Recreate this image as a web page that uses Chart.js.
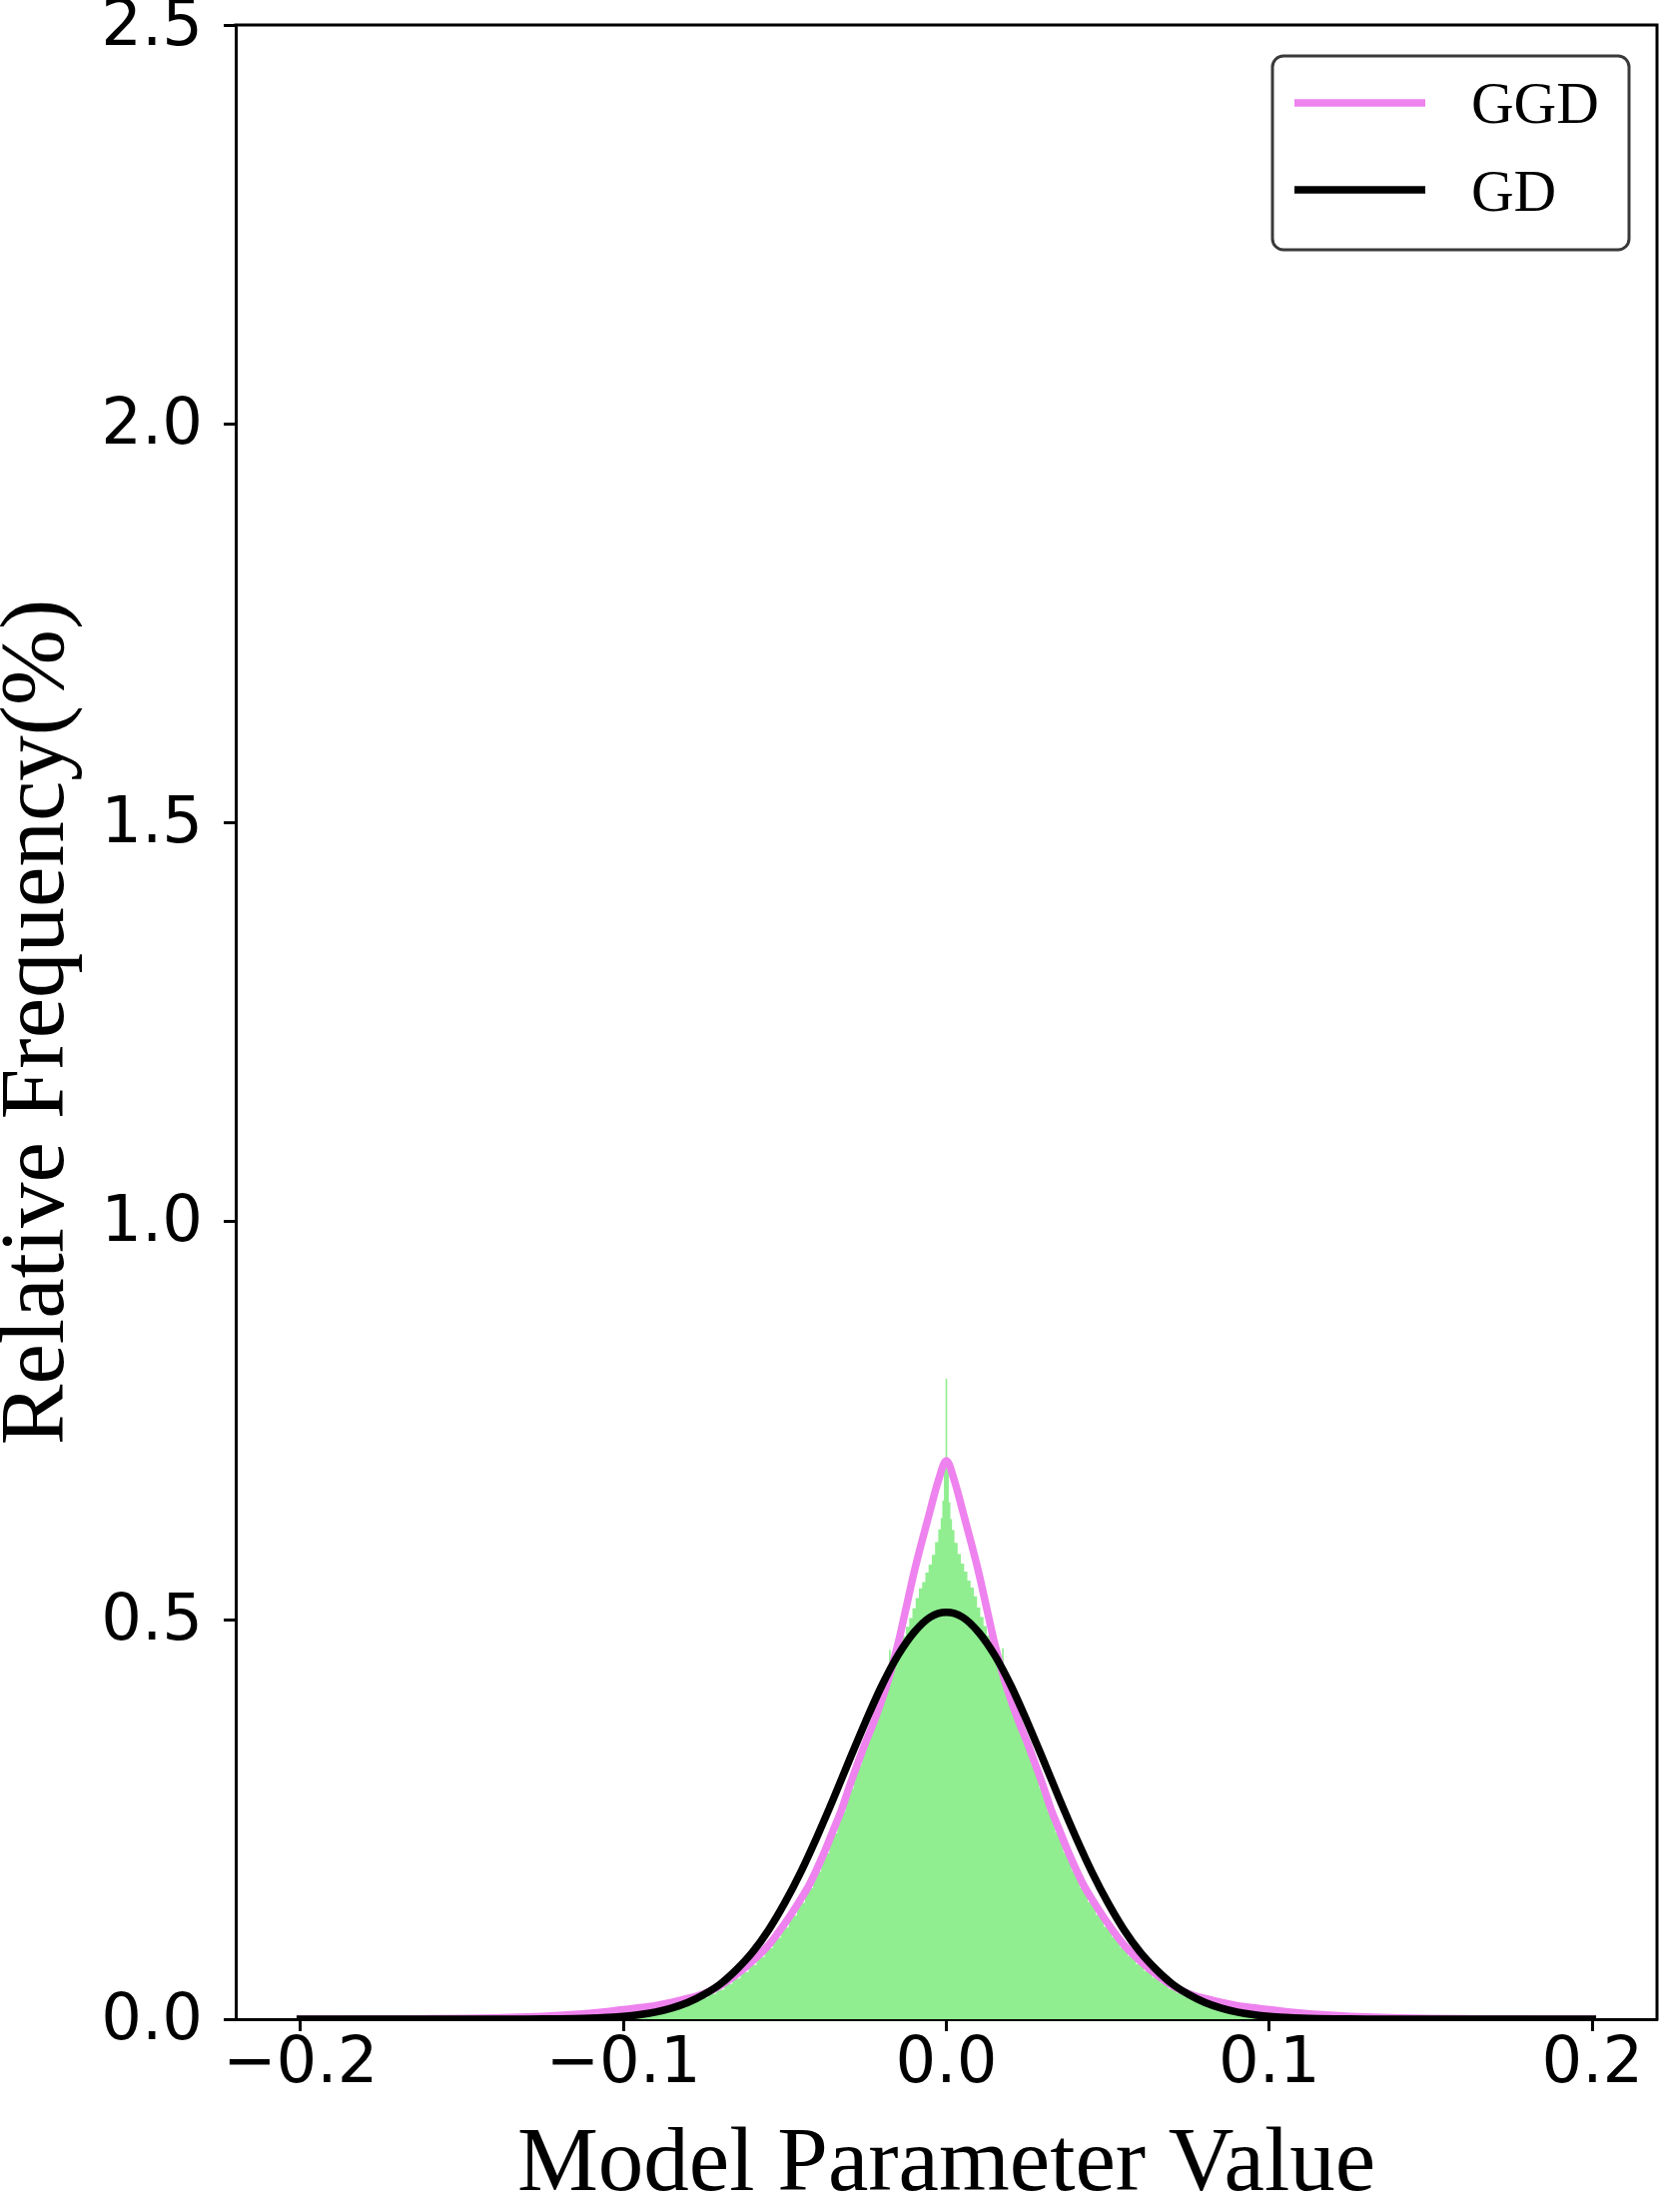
<!DOCTYPE html>
<html>
<head>
<meta charset="utf-8">
<script src="https://cdn.jsdelivr.net/npm/chart.js@4/dist/chart.umd.min.js"></script>
<style>
html,body{margin:0;padding:0;background:#fff;}
#wrap{width:1661px;height:2214px;position:relative;}
</style>
</head>
<body>
<div id="wrap"><canvas id="c" width="1661" height="2214"></canvas></div>
<script>
// ---- tick labels ----
const xTickValues = [-0.2, -0.1, 0, 0.1, 0.2];
const xTickLabels = ['\u22120.2', '\u22120.1', '0.0', '0.1', '0.2'];
const yTickValues = [0, 0.5, 1, 1.5, 2, 2.5];
const yTickLabels = ['0.0', '0.5', '1.0', '1.5', '2.0', '2.5'];

// ---- axis titles / series names ----
const xTitle = 'Model Parameter Value';
const yTitle = 'Relative Frequency(%)';
const seriesNames = ['GGD', 'GD'];

// ---- histogram (bin centres, relative frequency %) ----
const histX = [-0.115,-0.11,-0.105,-0.1,-0.0975,-0.095,-0.0925,-0.09,-0.0875,-0.085,-0.0825,-0.08,-0.0775,-0.075,-0.0725,-0.07,-0.0675,-0.065,-0.0625,-0.06,-0.0575,-0.055,-0.0525,-0.05,-0.0475,-0.045,-0.0425,-0.04,-0.0375,-0.035,-0.0325,-0.03,-0.0275,-0.025,-0.0225,-0.02,-0.018,-0.0175,-0.017,-0.016,-0.015,-0.014,-0.013,-0.012,-0.011,-0.01,-0.009,-0.008,-0.007,-0.006,-0.005,-0.004,-0.003,-0.002,-0.0015,-0.001,-0.0005,
  0,
  0.0005,0.001,0.0015,0.002,0.003,0.004,0.005,0.006,0.007,0.008,0.009,0.01,0.011,0.012,0.013,0.014,0.015,0.016,0.017,0.0175,0.018,0.02,0.0225,0.025,0.0275,0.03,0.0325,0.035,0.0375,0.04,0.0425,0.045,0.0475,0.05,0.0525,0.055,0.0575,0.06,0.0625,0.065,0.0675,0.07,0.0725,0.075,0.0775,0.08,0.0825,0.085,0.0875,0.09,0.0925,0.095,0.0975,0.1,0.105,0.11,0.115];
const histY = [0,0.0005,0.0012,0.0024,0.0033,0.0045,0.006,0.008,0.010,0.013,0.016,0.019,0.023,0.027,0.032,0.037,0.044,0.051,0.059,0.068,0.078,0.089,0.102,0.115,0.130,0.146,0.164,0.185,0.208,0.233,0.260,0.289,0.318,0.347,0.374,0.402,0.425,0.463,0.438,0.446,0.456,0.468,0.480,0.492,0.503,0.515,0.528,0.540,0.548,0.560,0.570,0.582,0.598,0.614,0.628,0.650,0.690,
  0.803,
  0.688,0.648,0.627,0.613,0.597,0.583,0.571,0.561,0.550,0.541,0.530,0.516,0.504,0.493,0.481,0.469,0.457,0.447,0.440,0.465,0.426,0.403,0.375,0.348,0.319,0.290,0.261,0.234,0.209,0.186,0.165,0.147,0.131,0.116,0.103,0.090,0.079,0.069,0.060,0.052,0.045,0.038,0.033,0.028,0.023,0.019,0.016,0.013,0.010,0.008,0.006,0.0045,0.0033,0.0024,0.0012,0.0005,0];

// ---- GGD fitted curve ----
const ggdX = [-0.2,-0.19,-0.18,-0.17,-0.16,-0.15,-0.145,-0.14,-0.135,-0.13,-0.125,-0.12,-0.115,-0.11,-0.105,-0.1,-0.095,-0.09,-0.085,-0.08,-0.075,-0.07,-0.065,-0.06,-0.055,-0.05,-0.045,-0.0425,-0.04,-0.0375,-0.035,-0.0325,-0.03,-0.0275,-0.025,-0.0225,-0.02,-0.0175,-0.015,-0.0125,-0.01,-0.0075,-0.005,-0.0025,
  0,
  0.0025,0.005,0.0075,0.01,0.0125,0.015,0.0175,0.02,0.0225,0.025,0.0275,0.03,0.0325,0.035,0.0375,0.04,0.0425,0.045,0.05,0.055,0.06,0.065,0.07,0.075,0.08,0.085,0.09,0.095,0.1,0.105,0.11,0.115,0.12,0.125,0.13,0.135,0.14,0.145,0.15,0.16,0.17,0.18,0.19,0.2];
const ggdY = [0.0001,0.0001,0.0002,0.0004,0.0006,0.0010,0.0013,0.0017,0.0022,0.0028,0.0036,0.0046,0.0059,0.0075,0.0095,0.012,0.0143,0.017,0.021,0.026,0.032,0.042,0.056,0.073,0.093,0.120,0.151,0.168,0.189,0.212,0.237,0.262,0.292,0.320,0.347,0.372,0.400,0.432,0.470,0.515,0.560,0.600,0.638,0.675,
  0.700,
  0.675,0.638,0.600,0.560,0.515,0.470,0.432,0.400,0.372,0.347,0.320,0.292,0.262,0.237,0.212,0.189,0.168,0.151,0.120,0.093,0.073,0.056,0.042,0.032,0.026,0.021,0.017,0.0143,0.012,0.0095,0.0075,0.0059,0.0046,0.0036,0.0028,0.0022,0.0017,0.0013,0.0010,0.0006,0.0004,0.0002,0.0001,0.0001];

// ---- GD fitted curve ----
const gdX = [-0.2,-0.18,-0.16,-0.14,-0.13,-0.125,-0.12,-0.115,-0.11,-0.105,-0.1,-0.095,-0.09,-0.085,-0.08,-0.075,-0.07,-0.065,-0.06,-0.055,-0.05,-0.045,-0.04,-0.035,-0.03,-0.025,-0.02,-0.015,-0.01,-0.005,
  0,
  0.005,0.01,0.015,0.02,0.025,0.03,0.035,0.04,0.045,0.05,0.055,0.06,0.065,0.07,0.075,0.08,0.085,0.09,0.095,0.1,0.105,0.11,0.115,0.12,0.125,0.13,0.14,0.16,0.18,0.2];
const gdY = [0,0,0,0,0.0001,0.0002,0.0004,0.0007,0.0012,0.0021,0.0034,0.0056,0.009,0.014,0.021,0.031,0.044,0.062,0.084,0.112,0.146,0.185,0.229,0.276,0.325,0.373,0.418,0.456,0.485,0.504,
  0.510,
  0.504,0.485,0.456,0.418,0.373,0.325,0.276,0.229,0.185,0.146,0.112,0.084,0.062,0.044,0.031,0.021,0.014,0.009,0.0056,0.0034,0.0021,0.0012,0.0007,0.0004,0.0002,0.0001,0,0,0,0];

function pts(xs, ys) { return xs.map((x, i) => ({ x: x, y: ys[i] })); }

const framePlugin = {
  id: 'frame',
  afterDatasetsDraw(chart) {
    const { ctx, chartArea: a } = chart;
    ctx.save();
    ctx.strokeStyle = '#000';
    ctx.lineWidth = 3;
    ctx.lineCap = 'square';
    ctx.beginPath();
    ctx.moveTo(a.left, a.top);
    ctx.lineTo(a.right, a.top);
    ctx.lineTo(a.right, a.bottom);
    ctx.stroke();
    ctx.restore();
  }
};

const legendPlugin = {
  id: 'boxLegend',
  afterDraw(chart) {
    const ctx = chart.ctx;
    const x = 1274, y = 56, w = 357, h = 194, r = 11;
    ctx.save();
    ctx.beginPath();
    ctx.moveTo(x + r, y);
    ctx.lineTo(x + w - r, y);
    ctx.arcTo(x + w, y, x + w, y + r, r);
    ctx.lineTo(x + w, y + h - r);
    ctx.arcTo(x + w, y + h, x + w - r, y + h, r);
    ctx.lineTo(x + r, y + h);
    ctx.arcTo(x, y + h, x, y + h - r, r);
    ctx.lineTo(x, y + r);
    ctx.arcTo(x, y, x + r, y, r);
    ctx.closePath();
    ctx.fillStyle = 'rgba(255,255,255,0.8)';
    ctx.fill();
    ctx.lineWidth = 3;
    ctx.strokeStyle = '#3a3a3a';
    ctx.stroke();
    const rows = [{ ds: chart.data.datasets[1], cy: 103, ty: 123 }, { ds: chart.data.datasets[2], cy: 190, ty: 211 }];
    rows.forEach(rw => {
      ctx.beginPath();
      ctx.lineWidth = 7.5;
      ctx.lineCap = 'butt';
      ctx.strokeStyle = rw.ds.borderColor;
      ctx.moveTo(1296, rw.cy);
      ctx.lineTo(1427, rw.cy);
      ctx.stroke();
      ctx.fillStyle = '#000';
      ctx.font = '59px "Liberation Serif"';
      ctx.textBaseline = 'alphabetic';
      ctx.textAlign = 'left';
      ctx.fillText(rw.ds.label, 1473, rw.ty);
    });
    ctx.restore();
  }
};

function build() {
  new Chart(document.getElementById('c'), {
    type: 'line',
    data: {
      datasets: [
        {
          label: 'hist',
          data: pts(histX, histY),
          stepped: 'middle',
          fill: 'origin',
          backgroundColor: '#90EE90',
          borderColor: 'rgba(0,0,0,0)',
          borderWidth: 0,
          pointRadius: 0,
          order: 3
        },
        {
          label: seriesNames[0],
          data: pts(ggdX, ggdY),
          borderColor: '#EE82EE',
          borderWidth: 7.5,
          pointRadius: 0,
          fill: false,
          cubicInterpolationMode: 'monotone',
          borderCapStyle: 'square',
          order: 2
        },
        {
          label: seriesNames[1],
          data: pts(gdX, gdY),
          borderColor: '#000000',
          borderWidth: 7.5,
          pointRadius: 0,
          fill: false,
          cubicInterpolationMode: 'monotone',
          borderCapStyle: 'square',
          order: 1
        }
      ]
    },
    options: {
      responsive: false,
      devicePixelRatio: 1,
      animation: false,
      layout: { padding: { top: 25, right: 2, left: 0, bottom: 0 } },
      plugins: { legend: { display: false }, tooltip: { enabled: false } },
      scales: {
        x: {
          type: 'linear',
          min: -0.22,
          max: 0.22,
          afterBuildTicks: s => { s.ticks = xTickValues.map(v => ({ value: v })); },
          afterFit: s => { s.height = 193; },
          ticks: {
            autoSkip: false,
            maxRotation: 0,
            padding: 2,
            color: '#000',
            font: { family: 'DejaVu Sans', size: 64, lineHeight: 1 },
            callback: v => xTickLabels[xTickValues.indexOf(v)]
          },
          grid: { drawOnChartArea: false, drawTicks: true, tickLength: 12, tickWidth: 3, tickColor: '#000' },
          border: { display: true, color: '#000', width: 3 },
          title: {
            display: true, text: xTitle, color: '#000',
            font: { family: 'Liberation Serif', size: 91, lineHeight: 1 },
            padding: { top: 0, bottom: 0 }
          }
        },
        y: {
          type: 'linear',
          min: 0,
          max: 2.5,
          afterBuildTicks: s => { s.ticks = yTickValues.map(v => ({ value: v })); },
          afterFit: s => { s.width = 236; },
          ticks: {
            autoSkip: false,
            padding: 21,
            labelOffset: 3,
            color: '#000',
            font: { family: 'DejaVu Sans', size: 64, lineHeight: 0.1 },
            callback: v => yTickLabels[yTickValues.indexOf(v)]
          },
          grid: { drawOnChartArea: false, drawTicks: true, tickLength: 12, tickWidth: 3, tickColor: '#000' },
          border: { display: true, color: '#000', width: 3 },
          title: {
            display: true, text: yTitle, color: '#000',
            font: { family: 'Liberation Serif', size: 91, lineHeight: 0.85 },
            padding: 0
          }
        }
      }
    },
    plugins: [framePlugin, legendPlugin]
  });
}

Promise.all([
  document.fonts.load('91px "Liberation Serif"'),
  document.fonts.load('64px "DejaVu Sans"')
]).then(build, build);
</script>
</body>
</html>
